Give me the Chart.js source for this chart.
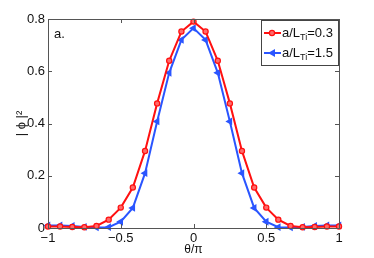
<!DOCTYPE html>
<html>
<head>
<meta charset="utf-8">
<script src="https://cdn.jsdelivr.net/npm/chart.js@4"></script>
<style>
  html, body { margin: 0; padding: 0; background: #fff; }
  #wrap { width: 374px; height: 258px; }
</style>
</head>
<body>
<div id="wrap"><canvas id="modeChart" width="374" height="258"></canvas></div>
<script>
// theta/pi sample points
const theta = [-1, -0.917, -0.833, -0.75, -0.667, -0.583, -0.5, -0.417, -0.333, -0.25, -0.167, -0.083, 0,
               0.083, 0.167, 0.25, 0.333, 0.417, 0.5, 0.583, 0.667, 0.75, 0.833, 0.917, 1];
// |phi|^2, a/L_Ti = 0.3
const phiLow = [0.006, 0.006, 0.004, 0.003, 0.008, 0.032, 0.078, 0.155, 0.295, 0.477, 0.64, 0.752, 0.79,
                0.752, 0.64, 0.477, 0.295, 0.155, 0.078, 0.032, 0.008, 0.003, 0.004, 0.006, 0.006];
// |phi|^2, a/L_Ti = 1.5
const phiHigh = [0.01, 0.01, 0.008, 0.004, 0.002, 0.003, 0.024, 0.077, 0.21, 0.408, 0.594, 0.72, 0.765,
                 0.72, 0.594, 0.408, 0.21, 0.077, 0.024, 0.003, 0.002, 0.004, 0.008, 0.01, 0.01];
const xTicks = [-1, -0.5, 0, 0.5, 1];
const xTickLabels = ['\u22121', '\u22120.5', '0', '0.5', '1'];
const yTicks = [0, 0.2, 0.4, 0.6, 0.8];
const yTickLabels = ['0', '0.2', '0.4', '0.6', '0.8'];

const RED = '#ff1010';
const RED_FILL = '#ff6a6a';
const BLUE = '#2a55ff';
const FONT = 'Liberation Sans, Arial, sans-serif';

const toPoints = vals => theta.map((t, i) => ({ x: t, y: vals[i] }));

// box round the plot with inward ticks, like matlab
const boxPlugin = {
    id: 'box',
    afterDraw(chart) {
        const { ctx, chartArea: a, scales } = chart;
        ctx.save();
        ctx.strokeStyle = '#555';
        ctx.lineWidth = 1;
        ctx.strokeRect(a.left + 0.5, a.top + 0.5, a.right - a.left, a.bottom - a.top);
        ctx.beginPath();
        xTicks.forEach(v => {
            const px = Math.round(scales.x.getPixelForValue(v)) + 0.5;
            ctx.moveTo(px, a.bottom); ctx.lineTo(px, a.bottom - 4);
            ctx.moveTo(px, a.top); ctx.lineTo(px, a.top + 4);
        });
        yTicks.forEach(v => {
            const py = Math.round(scales.y.getPixelForValue(v)) + 0.5;
            ctx.moveTo(a.left, py); ctx.lineTo(a.left + 4, py);
            ctx.moveTo(a.right, py); ctx.lineTo(a.right - 4, py);
        });
        ctx.stroke();

        // panel label
        ctx.fillStyle = '#111';
        ctx.font = '13px ' + FONT;
        ctx.textBaseline = 'alphabetic';
        ctx.fillText('a.', a.left + 6, a.top + 19);
        ctx.restore();
    }
};

// legend box with subscripts
const legendPlugin = {
    id: 'subLegend',
    afterDraw(chart) {
        const { ctx, chartArea: a } = chart;
        const bx = a.right - 78, by = a.top + 1, bw = 78, bh = 46;
        ctx.save();
        ctx.fillStyle = '#fff';
        ctx.fillRect(bx, by, bw, bh);
        ctx.strokeStyle = '#444';
        ctx.lineWidth = 1;
        ctx.strokeRect(bx + 0.5, by + 0.5, bw - 1, bh - 1);
        const entries = [
            { color: RED, style: 'circle', value: '=0.3', y: by + 13 },
            { color: BLUE, style: 'triangle', value: '=1.5', y: by + 33 }
        ];
        entries.forEach(e => {
            ctx.strokeStyle = e.color;
            ctx.lineWidth = 2;
            ctx.beginPath();
            ctx.moveTo(bx + 3, e.y); ctx.lineTo(bx + 20, e.y);
            ctx.stroke();
            ctx.fillStyle = e.color;
            ctx.beginPath();
            if (e.style === 'circle') {
                ctx.arc(bx + 11, e.y, 2.6, 0, Math.PI * 2);
                ctx.fillStyle = RED_FILL;
                ctx.fill();
                ctx.lineWidth = 1.2;
                ctx.stroke();
            } else {
                ctx.moveTo(bx + 7, e.y);
                ctx.lineTo(bx + 14, e.y - 4);
                ctx.lineTo(bx + 14, e.y + 4);
                ctx.closePath();
                ctx.fill();
            }
            ctx.fillStyle = '#111';
            ctx.textBaseline = 'middle';
            ctx.font = '13px ' + FONT;
            let tx = bx + 21;
            ctx.fillText('a/L', tx, e.y);
            tx += ctx.measureText('a/L').width;
            ctx.font = '9px ' + FONT;
            ctx.fillText('Ti', tx, e.y + 5);
            tx += ctx.measureText('Ti').width;
            ctx.font = '13px ' + FONT;
            ctx.fillText(e.value, tx, e.y);
        });
        ctx.restore();
    }
};

new Chart(document.getElementById('modeChart').getContext('2d'), {
    type: 'line',
    data: {
        datasets: [{
            label: 'a/L_Ti=0.3',
            data: toPoints(phiLow),
            borderColor: RED,
            backgroundColor: RED_FILL,
            borderWidth: 2,
            pointStyle: 'circle',
            pointRadius: 2.6,
            pointBorderWidth: 1.2,
            pointBorderColor: RED,
            tension: 0,
            clip: false
        }, {
            label: 'a/L_Ti=1.5',
            data: toPoints(phiHigh),
            borderColor: BLUE,
            backgroundColor: BLUE,
            borderWidth: 2,
            pointStyle: 'triangle',
            pointRotation: -90,
            pointRadius: 4.5,
            pointBorderWidth: 0,
            tension: 0,
            clip: false
        }]
    },
    options: {
        responsive: false,
        animation: false,
        layout: { padding: { top: 19, right: 35, left: 0, bottom: 0 } },
        plugins: {
            legend: { display: false },
            tooltip: { enabled: false }
        },
        scales: {
            x: {
                type: 'linear',
                min: -1,
                max: 1,
                afterBuildTicks: s => { s.ticks = xTicks.map(v => ({ value: v })); },
                afterFit: s => { s.height = 30; },
                grid: { display: false, drawTicks: false, tickLength: 0 },
                border: { display: false },
                ticks: {
                    callback: (v, i) => xTickLabels[i],
                    color: '#111',
                    font: { size: 13, family: FONT },
                    padding: 3,
                    maxRotation: 0
                },
                title: {
                    display: true,
                    text: 'θ/π',
                    color: '#111',
                    font: { size: 12, family: FONT },
                    padding: { top: 0, bottom: 1 }
                }
            },
            y: {
                min: 0,
                max: 0.8,
                afterBuildTicks: s => { s.ticks = yTicks.map(v => ({ value: v })); },
                afterFit: s => { s.width = 48; },
                grid: { display: false, drawTicks: false, tickLength: 0 },
                border: { display: false },
                ticks: {
                    callback: (v, i) => yTickLabels[i],
                    color: '#111',
                    font: { size: 13, family: FONT },
                    padding: 3
                },
                title: {
                    display: true,
                    text: '| ϕ |²',
                    color: '#111',
                    font: { size: 13, family: FONT },
                    padding: { top: 14, bottom: 0 }
                }
            }
        }
    },
    plugins: [boxPlugin, legendPlugin]
});
</script>
</body>
</html>
